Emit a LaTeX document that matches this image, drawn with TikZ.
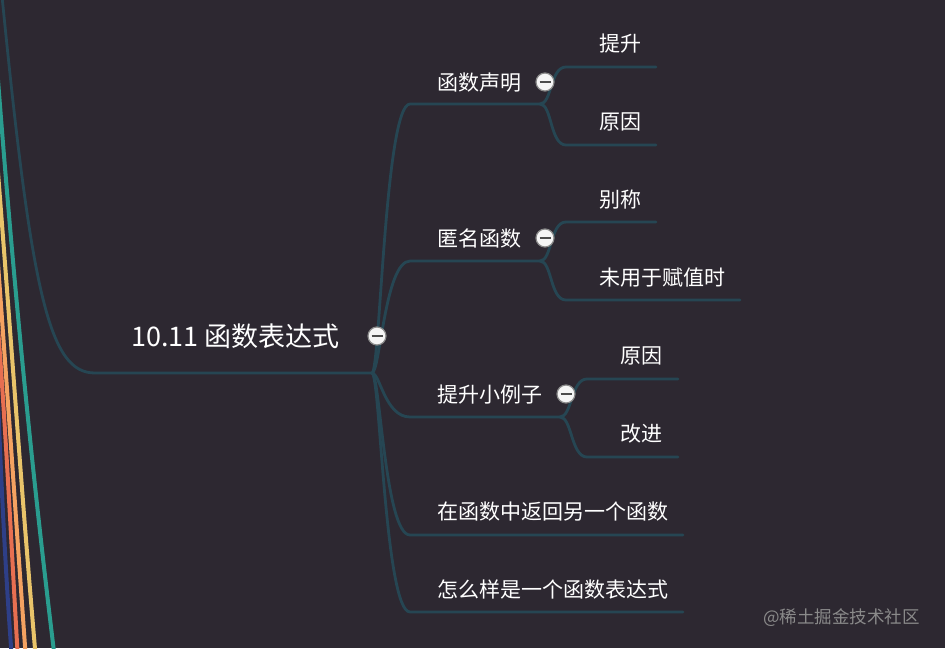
\documentclass[tikz,border=0pt]{standalone}
\usepackage{fontspec}
\newfontfamily\cjk{Noto Sans CJK SC}
\definecolor{bg}{HTML}{2D2831}
\definecolor{lineC}{HTML}{264653}
\definecolor{cTeal}{HTML}{2A9D8F}
\definecolor{cYel}{HTML}{E9C46A}
\definecolor{cOra}{HTML}{F4A261}
\definecolor{cRed}{HTML}{E76F51}
\definecolor{cBlue}{HTML}{2E3F88}
\definecolor{wm}{HTML}{8A8A8A}
\tikzset{
  branch/.style={draw=lineC, line width=2.8pt, line cap=round},
  side/.style={line width=4pt},
  lbl/.style={anchor=base west, inner sep=0, text=white, font=\cjk\fontsize{21}{25}\selectfont},
  rootlbl/.style={anchor=base west, inner sep=0, text=white, font=\cjk\fontsize{27}{32}\selectfont},
  btn/.style={circle, draw=wm, fill=white!96!black, line width=1.2pt, minimum size=18pt, inner sep=0,
    path picture={\draw[line width=1.7pt, black!70] ([xshift=-5.5pt]path picture bounding box.center) -- ([xshift=5.5pt]path picture bounding box.center);}}
}
\begin{document}
\begin{tikzpicture}[x=1pt,y=-1pt]
\fill[bg] (0,0) rectangle (945,648);
\useasboundingbox (0,0) rectangle (945,648);

% coloured side lines
\draw[side, cBlue] (-2,400) .. controls (2,500) and (6,580) .. (12,660);
\draw[side, cRed] (-3,315) .. controls (6,430) and (11,540) .. (18,660);
\draw[side, cOra] (-3,250) .. controls (8,400) and (16,520) .. (26,660);
\draw[side, cYel] (-3,160) .. controls (12,350) and (22,500) .. (36,660);
\draw[side, cTeal] (-2,80) .. controls (15,300) and (33,480) .. (55,660);

% coordinates
\coordinate (top) at (2,-4);
\coordinate (rootS) at (95,373);
\coordinate (J) at (372,373);
\coordinate (c1s) at (410,104); \coordinate (c1e) at (540,104);
\coordinate (c2s) at (410,261); \coordinate (c2e) at (540,261);
\coordinate (c3s) at (410,417); \coordinate (c3e) at (560,417);
\coordinate (c4s) at (410,535); \coordinate (c4e) at (683,535);
\coordinate (c5s) at (410,612); \coordinate (c5e) at (683,612);
\coordinate (s11s) at (566,67);  \coordinate (s11e) at (656,67);
\coordinate (s12s) at (566,145); \coordinate (s12e) at (656,145);
\coordinate (s21s) at (566,222); \coordinate (s21e) at (656,222);
\coordinate (s22s) at (566,300); \coordinate (s22e) at (740,300);
\coordinate (s31s) at (587,379); \coordinate (s31e) at (678,379);
\coordinate (s32s) at (587,457); \coordinate (s32e) at (678,457);

% root line
\draw[branch] (top) .. controls (32,300) and (50,373) .. (rootS) -- (J);
% children
\foreach \c/\y in {c1/104,c2/261,c3/417,c4/535,c5/612}{
  \draw[branch] (J) .. controls (380,373) and (385,\y) .. (\c s) -- (\c e);
}
% sub branches
\draw[branch] (c1e) .. controls (552,104) and (550,67) .. (s11s) -- (s11e);
\draw[branch] (c1e) .. controls (552,104) and (550,145) .. (s12s) -- (s12e);
\draw[branch] (c2e) .. controls (552,261) and (550,222) .. (s21s) -- (s21e);
\draw[branch] (c2e) .. controls (552,261) and (550,300) .. (s22s) -- (s22e);
\draw[branch] (c3e) .. controls (572,417) and (571,379) .. (s31s) -- (s31e);
\draw[branch] (c3e) .. controls (572,417) and (571,457) .. (s32s) -- (s32e);

% labels
\node[rootlbl] (root) at (131,346.3) {10.11 函数表达式};
\node[lbl] (n1) at (437,90) {函数声明};
\node[lbl] (n2) at (437,246) {匿名函数};
\node[lbl] (n3) at (437,402) {提升小例子};
\node[lbl] (n4) at (437,519) {在函数中返回另一个函数};
\node[lbl] (n5) at (437,597) {怎么样是一个函数表达式};
\node[lbl] (n11) at (599,51) {提升};
\node[lbl] (n12) at (599,129) {原因};
\node[lbl] (n21) at (599,207) {别称};
\node[lbl] (n22) at (599,285) {未用于赋值时};
\node[lbl] (n31) at (620,363) {原因};
\node[lbl] (n32) at (620,441) {改进};

% collapse buttons
\node[btn] (b0) at (377,336) {};
\node[btn] (b1) at (545,82) {};
\node[btn] (b2) at (545,238) {};
\node[btn] (b3) at (566,394) {};

% watermark
\node[anchor=base west, inner sep=0, text=wm, font=\cjk\fontsize{17.5}{20}\selectfont] (wmk) at (763,623.5) {@稀土掘金技术社区};
\end{tikzpicture}
\end{document}
